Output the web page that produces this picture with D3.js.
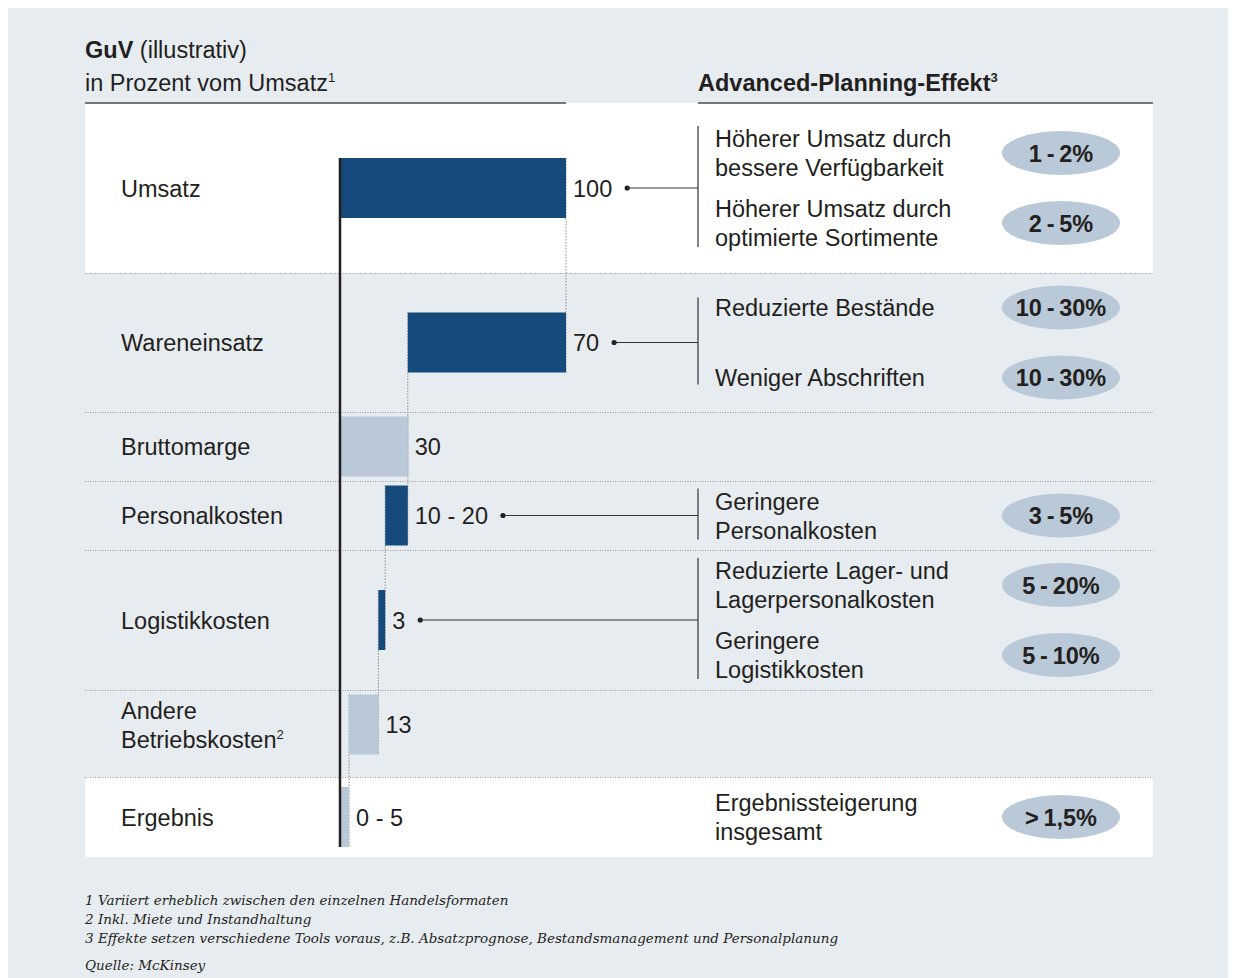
<!DOCTYPE html>
<html>
<head>
<meta charset="utf-8">
<script src="https://cdn.jsdelivr.net/npm/d3@7"></script>
<style>
  body { margin: 0; background: #fff; }
  svg { display: block; }
  text { font-family: "Liberation Sans", Arial, sans-serif; fill: #231f20; }
  .foot { font-family: "DejaVu Serif", Georgia, serif; font-style: italic; }
</style>
</head>
<body>
<svg id="chart" width="1233" height="978"></svg>
<script>
// --- data ---
var categories = ["Umsatz", "Wareneinsatz", "Bruttomarge", "Personalkosten", "Logistikkosten", "Andere Betriebskosten", "Ergebnis"];
var barStart = [0, 30, 0, 20, 17, 4, 0];
var barEnd = [100, 100, 30, 30, 20, 17, 4];
var barDark = [true, true, false, true, true, false, false];
var valueLabels = ["100", "70", "30", "10 - 20", "3", "13", "0 - 5"];

var effectRow = [0, 0, 1, 1, 3, 4, 4, 6];
var effectText = [
  ["Höherer Umsatz durch", "bessere Verfügbarkeit"],
  ["Höherer Umsatz durch", "optimierte Sortimente"],
  ["Reduzierte Bestände"],
  ["Weniger Abschriften"],
  ["Geringere", "Personalkosten"],
  ["Reduzierte Lager- und", "Lagerpersonalkosten"],
  ["Geringere", "Logistikkosten"],
  ["Ergebnissteigerung", "insgesamt"]
];
var effectPct = ["1\u2009-\u20092%", "2\u2009-\u20095%", "10\u2009-\u200930%", "10\u2009-\u200930%", "3\u2009-\u20095%", "5\u2009-\u200920%", "5\u2009-\u200910%", ">\u20091,5%"];

var footnotes = [
  "1 Variiert erheblich zwischen den einzelnen Handelsformaten",
  "2 Inkl. Miete und Instandhaltung",
  "3 Effekte setzen verschiedene Tools voraus, z.B. Absatzprognose, Bestandsmanagement und Personalplanung"
];
var source = "Quelle: McKinsey";

// --- layout ---
var rowHeights = [170, 139, 69, 69, 140, 87, 80];
var rowWhite = [true, false, false, false, false, false, true];
var barShift = [0, 0, 0, 0, 0, -9, 0];
var top0 = 103, left = 85, right = 1153, barH = 60;
var fs = "23.5px";
var darkBlue = "#174a7c", lightBlue = "#b9c9d8", panel = "#e7ecf0";

var rowTops = [];
var acc = top0;
rowHeights.forEach(function (h) { rowTops.push(acc); acc += h; });
var rowCenter = function (i) { return rowTops[i] + rowHeights[i] / 2; };

var x = d3.scaleLinear().domain([0, 100]).range([340, 566]);
var svg = d3.select("#chart");

svg.append("rect").attr("x", 8).attr("y", 8).attr("width", 1220).attr("height", 970).attr("fill", panel);

// white rows
svg.selectAll("rect.row").data(categories).enter().append("rect")
  .attr("class", "row")
  .attr("x", left).attr("width", right - left)
  .attr("y", function (d, i) { return rowTops[i]; })
  .attr("height", function (d, i) { return rowHeights[i]; })
  .attr("fill", function (d, i) { return rowWhite[i] ? "#fff" : panel; });

// dotted separators
svg.selectAll("line.sep").data(rowTops.slice(1)).enter().append("line")
  .attr("x1", left).attr("x2", right)
  .attr("y1", function (d) { return d + 0.5; }).attr("y2", function (d) { return d + 0.5; })
  .attr("stroke", "#999").attr("stroke-width", 1).attr("stroke-dasharray", "1,1.5");

// header
var t1 = svg.append("text").attr("x", left).attr("y", 58).style("font-size", fs);
t1.append("tspan").style("font-weight", "bold").text("GuV");
t1.append("tspan").text(" (illustrativ)");
var t2 = svg.append("text").attr("x", left).attr("y", 91).style("font-size", fs);
t2.append("tspan").text("in Prozent vom Umsatz");
t2.append("tspan").attr("dy", -9).style("font-size", "13px").text("1");
var t3 = svg.append("text").attr("x", 698).attr("y", 91).style("font-size", fs).style("font-weight", "bold");
t3.append("tspan").text("Advanced-Planning-Effekt");
t3.append("tspan").attr("dy", -9).style("font-size", "13px").text("3");

svg.append("line").attr("x1", left).attr("x2", 566).attr("y1", 103).attr("y2", 103)
  .attr("stroke", "#4a4a4a").attr("stroke-width", 1.5);
svg.append("line").attr("x1", 698).attr("x2", right).attr("y1", 103).attr("y2", 103)
  .attr("stroke", "#4a4a4a").attr("stroke-width", 1.5);

// row labels
categories.forEach(function (c, i) {
  var lines = c === "Andere Betriebskosten" ? ["Andere", "Betriebskosten"] : [c];
  var cy = rowCenter(i) + barShift[i];
  var txt = svg.append("text").attr("x", 121).style("font-size", fs);
  lines.forEach(function (l, j) {
    txt.append("tspan").attr("x", 121)
      .attr("y", cy + 8.5 + (j - (lines.length - 1) / 2) * 29).text(l);
    if (lines.length > 1 && j == 1) {
      txt.append("tspan").attr("dy", -9).style("font-size", "13px").text("2");
    }
  });
});

function barTop(i) { return rowCenter(i) + barShift[i] - barH / 2; }

// connectors
for (var i = 0; i < categories.length - 1; i++) {
  var a = [barStart[i], barEnd[i]], b = [barStart[i + 1], barEnd[i + 1]];
  var shared = a.filter(function (v) { return b.indexOf(v) >= 0; })[0];
  svg.append("line")
    .attr("x1", x(shared)).attr("x2", x(shared))
    .attr("y1", barTop(i)).attr("y2", barTop(i + 1) + barH)
    .attr("stroke", "#8c8c8c").attr("stroke-width", 1).attr("stroke-dasharray", "1.5,1.5");
}

// bars
svg.selectAll("rect.bar").data(categories).enter().append("rect")
  .attr("class", "bar")
  .attr("x", function (d, i) { return x(barStart[i]); })
  .attr("width", function (d, i) { return x(barEnd[i]) - x(barStart[i]); })
  .attr("y", function (d, i) { return barTop(i); })
  .attr("height", barH)
  .attr("fill", function (d, i) { return barDark[i] ? darkBlue : lightBlue; });

// axis line
svg.append("line").attr("x1", x(0)).attr("x2", x(0))
  .attr("y1", barTop(0)).attr("y2", barTop(categories.length - 1) + barH)
  .attr("stroke", "#231f20").attr("stroke-width", 2.5);

// value labels + leader lines
var hasEffects = categories.map(function (c, i) { return effectRow.indexOf(i) >= 0; });
categories.forEach(function (c, i) {
  var cy = rowCenter(i) + barShift[i];
  var lab = svg.append("text").attr("x", x(barEnd[i]) + 7).attr("y", cy + 8.5)
    .style("font-size", fs).text(valueLabels[i]);
  if (hasEffects[i] && i !== categories.length - 1) {
    var endX = x(barEnd[i]) + 7 + lab.node().getComputedTextLength() + 15;
    svg.append("circle").attr("cx", endX).attr("cy", cy).attr("r", 2.6).attr("fill", "#231f20");
    svg.append("line").attr("x1", endX).attr("x2", 698).attr("y1", cy).attr("y2", cy)
      .attr("stroke", "#333").attr("stroke-width", 1.2);
  }
});

// effects
function effectCenter(k) {
  var r = effectRow[k];
  var items = effectRow.map(function (v, idx) { return v === r ? idx : -1; }).filter(function (v) { return v >= 0; });
  var j = items.indexOf(k);
  return rowCenter(r) + (j - (items.length - 1) / 2) * 70;
}

categories.forEach(function (c, i) {
  if (!hasEffects[i] || i === categories.length - 1) return;
  var items = effectRow.map(function (v, idx) { return v === i ? idx : -1; }).filter(function (v) { return v >= 0; });
  var f = items[0], l = items[items.length - 1];
  var y1 = effectCenter(f) - (effectText[f].length > 1 ? 27 : 10);
  var y2 = effectCenter(l) + (effectText[l].length > 1 ? 24 : 7);
  svg.append("line").attr("x1", 698).attr("x2", 698).attr("y1", y1).attr("y2", y2)
    .attr("stroke", "#333").attr("stroke-width", 1.2);
});

effectText.forEach(function (lines, k) {
  var cy = effectCenter(k);
  var txt = svg.append("text").style("font-size", fs);
  lines.forEach(function (l, j) {
    txt.append("tspan").attr("x", 715)
      .attr("y", cy + 8.5 + (j - (lines.length - 1) / 2) * 29).text(l);
  });
  svg.append("ellipse").attr("cx", 1061).attr("cy", cy).attr("rx", 59).attr("ry", 22).attr("fill", lightBlue);
  svg.append("text").attr("x", 1061).attr("y", cy + 8.5).attr("text-anchor", "middle")
    .style("font-size", fs).style("font-weight", "bold").text(effectPct[k]);
});

// footnotes
footnotes.forEach(function (f, i) {
  svg.append("text").attr("class", "foot").attr("x", left).attr("y", 905 + i * 19)
    .style("font-size", "13.5px").text(f);
});
svg.append("text").attr("class", "foot").attr("x", left).attr("y", 970)
  .style("font-size", "13.5px").text(source);
</script>
</body>
</html>
